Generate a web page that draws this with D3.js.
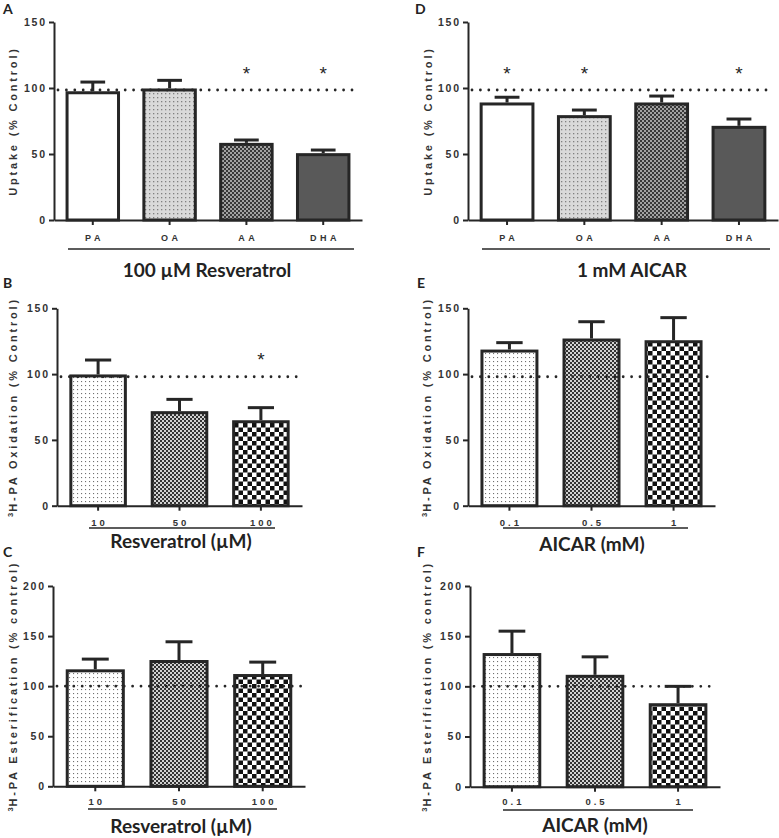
<!DOCTYPE html>
<html><head><meta charset="utf-8">
<script src="https://cdn.jsdelivr.net/npm/d3@7"></script>
<style>body{margin:0;background:#fff}svg{display:block}</style>
</head><body>
<script>
// ---------- data ----------
const uptakeCats = ["PA", "OA", "AA", "DHA"];
const resvUptakeMean = [96.4, 98.5, 57.3, 49.5];
const resvUptakeSem = [8.1, 7.3, 3.3, 3.5];
const resvUptakeSig = [0, 0, 1, 1];
const aicarUptakeMean = [87.9, 78.3, 87.9, 70.2];
const aicarUptakeSem = [5.1, 5.0, 6.0, 6.3];
const aicarUptakeSig = [1, 1, 0, 1];

const resvDoses = ["10", "50", "100"];
const aicarDoses = ["0.1", "0.5", "1"];
const resvOxMean = [98.6, 70.7, 63.8];
const resvOxSem = [12.1, 10.1, 10.7];
const resvOxSig = [0, 0, 1];
const aicarOxMean = [117.5, 125.9, 124.6];
const aicarOxSem = [6.4, 13.9, 18.3];
const aicarOxSig = [0, 0, 0];
const resvEstMean = [115.3, 124.6, 110.6];
const resvEstSem = [11.7, 19.7, 13.4];
const resvEstSig = [0, 0, 0];
const aicarEstMean = [131.7, 110.0, 81.7];
const aicarEstSem = [23.3, 19.4, 18.3];
const aicarEstSig = [0, 0, 0];

const uptakeTicks = [0, 50, 100, 150];
const oxTicks = [0, 50, 100, 150];
const estTicks = [0, 50, 100, 150, 200];
const controlLevels = [98.5, 98.5, 98, 98, 100, 100];
const starLevel = 114;

// ---------- drawing ----------
const W = 779, H = 838;
const svg = d3.select("body").append("svg").attr("width", W).attr("height", H);
const defs = svg.append("defs");
const ink = "#262626";

function pat(id, size, bg, rects) {
  const p = defs.append("pattern").attr("id", id).attr("patternUnits", "userSpaceOnUse")
    .attr("width", size).attr("height", size);
  p.append("rect").attr("width", size).attr("height", size).attr("fill", bg);
  rects.forEach(r => p.append("rect").attr("x", r[0]).attr("y", r[1]).attr("width", r[2]).attr("height", r[3]).attr("fill", r[4]));
}
pat("dotsGray", 4, "#d9d9d9", [[1, 1, 1.3, 1.3, "#808080"]]);
pat("checkDark", 4, "#a2a2a2", [[0, 0, 2, 2, "#383838"], [2, 2, 2, 2, "#383838"]]);
pat("dotsWhite", 4, "#ffffff", [[1, 1, 1.1, 1.1, "#707070"]]);
pat("checkFine", 4, "#d2d2d2", [[0, 0, 2, 2, "#333333"], [2, 2, 2, 2, "#333333"]]);
pat("checkCoarse", 9, "#ffffff", [[0, 0, 4.5, 4.5, "#111111"], [4.5, 4.5, 4.5, 4.5, "#111111"]]);

const uptakeFills = ["#ffffff", "url(#dotsGray)", "url(#checkDark)", "#595959"];
const doseFills = ["url(#dotsWhite)", "url(#checkFine)", "url(#checkCoarse)"];

const panels = [
  {letter: "A", lx: 3, ly: 14, cats: uptakeCats, mean: resvUptakeMean, sem: resvUptakeSem, sig: resvUptakeSig,
   fills: uptakeFills, ticks: uptakeTicks, max: 150, x0: 54, x1: 362, yt: 22, yb: 220,
   ylab: ["", "Uptake (% Control)"], ylx: 16.5, tickY: 241, catSp: 3.5, catFs: 9,
   ul: [68, 354, 249], title: "100 µM Resveratrol", tx: 207, ty: 277},
  {letter: "D", lx: 415, ly: 14, cats: uptakeCats, mean: aicarUptakeMean, sem: aicarUptakeSem, sig: aicarUptakeSig,
   fills: uptakeFills, ticks: uptakeTicks, max: 150, x0: 468, x1: 778, yt: 22, yb: 220,
   ylab: ["", "Uptake (% Control)"], ylx: 431.5, tickY: 241, catSp: 3.5, catFs: 9,
   ul: [482, 770, 249], title: "1 mM AICAR", tx: 632, ty: 277},
  {letter: "B", lx: 3, ly: 288, cats: resvDoses, mean: resvOxMean, sem: resvOxSem, sig: resvOxSig,
   fills: doseFills, ticks: oxTicks, max: 150, x0: 57, x1: 302, yt: 308.3, yb: 505.7,
   ylab: ["3", "H-PA Oxidation (% Control)"], ylx: 17, tickY: 525.5, catSp: 3, catFs: 9.5,
   ul: [89, 275, 528], title: "Resveratrol (µM)", tx: 181, ty: 548},
  {letter: "E", lx: 417, ly: 288, cats: aicarDoses, mean: aicarOxMean, sem: aicarOxSem, sig: aicarOxSig,
   fills: doseFills, ticks: oxTicks, max: 150, x0: 468, x1: 715, yt: 308.3, yb: 505.7,
   ylab: ["3", "H-PA Oxidation (% Control)"], ylx: 431, tickY: 525.5, catSp: 3, catFs: 9.5,
   ul: [503, 688, 528], title: "AICAR (mM)", tx: 592, ty: 551},
  {letter: "C", lx: 3, ly: 557, cats: resvDoses, mean: resvEstMean, sem: resvEstSem, sig: resvEstSig,
   fills: doseFills, ticks: estTicks, max: 200, x0: 53, x1: 305, yt: 586, yb: 786.3,
   ylab: ["3", "H-PA Esterification (% control)"], ylx: 17, tickY: 805, catSp: 3, catFs: 9.5,
   ul: [88, 277, 809], title: "Resveratrol (µM)", tx: 181, ty: 833},
  {letter: "F", lx: 417, ly: 557, cats: aicarDoses, mean: aicarEstMean, sem: aicarEstSem, sig: aicarEstSig,
   fills: doseFills, ticks: estTicks, max: 200, x0: 470, x1: 720, yt: 586, yb: 786.7,
   ylab: ["3", "H-PA Esterification (% control)"], ylx: 431, tickY: 805, catSp: 3, catFs: 9.5,
   ul: [503, 693, 810], title: "AICAR (mM)", tx: 595, ty: 832}
];

const tickFont = "'Liberation Sans', Arial, sans-serif";
const titleFont = "Lato, 'Open Sans', sans-serif";

panels.forEach((p, pi) => {
  const g = svg.append("g");
  const x = d3.scaleBand().domain(p.cats).range([p.x0, p.x1]).paddingInner(0.33).paddingOuter(0.17);
  const y = d3.scaleLinear().domain([0, p.max]).range([p.yb, p.yt]);
  const data = p.cats.map((c, i) => ({c, m: p.mean[i], s: p.sem[i], sig: p.sig[i], f: p.fills[i]}));

  // bars
  g.selectAll("rect.bar").data(data).join("rect").attr("class", "bar")
    .attr("x", d => x(d.c)).attr("width", x.bandwidth())
    .attr("y", d => y(d.m)).attr("height", d => y(0) - y(d.m))
    .attr("fill", d => d.f).attr("stroke", ink).attr("stroke-width", 3);

  // error bars (upper)
  const capW = x.bandwidth() * 0.48;
  g.selectAll("line.err").data(data).join("line").attr("class", "err")
    .attr("x1", d => x(d.c) + x.bandwidth() / 2).attr("x2", d => x(d.c) + x.bandwidth() / 2)
    .attr("y1", d => y(d.m) - 1.5).attr("y2", d => y(d.m + d.s))
    .attr("stroke", ink).attr("stroke-width", 3);
  g.selectAll("line.cap").data(data).join("line").attr("class", "cap")
    .attr("x1", d => x(d.c) + x.bandwidth() / 2 - capW / 2).attr("x2", d => x(d.c) + x.bandwidth() / 2 + capW / 2)
    .attr("y1", d => y(d.m + d.s)).attr("y2", d => y(d.m + d.s))
    .attr("stroke", ink).attr("stroke-width", 3);

  // control dotted line
  g.append("line").attr("x1", p.x0 + 4).attr("x2", p.x1 - 4)
    .attr("y1", y(controlLevels[pi])).attr("y2", y(controlLevels[pi]))
    .attr("stroke", ink).attr("stroke-width", 2.8).attr("stroke-linecap", "round")
    .attr("stroke-dasharray", "0,8.4");

  // stars
  g.selectAll("text.star").data(data.filter(d => d.sig)).join("text").attr("class", "star")
    .attr("x", d => x(d.c) + x.bandwidth() / 2).attr("y", y(starLevel) + 10)
    .attr("text-anchor", "middle").attr("font-family", tickFont).attr("font-size", 19)
    .attr("fill", ink).text("*");

  // y axis
  const ya = g.append("g").attr("transform", `translate(${p.x0},0)`)
    .call(d3.axisLeft(y).tickValues(p.ticks).tickSize(5).tickSizeOuter(0).tickPadding(4));
  ya.select(".domain").attr("stroke", ink).attr("stroke-width", 2);
  ya.selectAll(".tick line").attr("stroke", ink).attr("stroke-width", 2);
  ya.selectAll(".tick text").attr("font-family", tickFont).attr("font-weight", "bold")
    .attr("font-size", 10.5).attr("letter-spacing", 1.8).attr("fill", "#333").attr("dx", 1.8);

  // x axis
  const xa = g.append("g").attr("transform", `translate(0,${p.yb})`)
    .call(d3.axisBottom(x).tickSize(5).tickSizeOuter(0).tickFormat(() => ""));
  xa.select(".domain").attr("stroke", ink).attr("stroke-width", 2);
  xa.selectAll(".tick line").attr("stroke", ink).attr("stroke-width", 2);
  g.selectAll("text.cat").data(data).join("text").attr("class", "cat")
    .attr("x", d => x(d.c) + x.bandwidth() / 2 + p.catSp / 2).attr("y", p.tickY)
    .attr("text-anchor", "middle").attr("font-family", tickFont).attr("font-weight", "bold")
    .attr("font-size", p.catFs).attr("letter-spacing", p.catSp).attr("fill", "#333").text(d => d.c);

  // y label
  const yl = g.append("text")
    .attr("transform", `translate(${p.ylx},${(p.yt + p.yb) / 2}) rotate(-90)`)
    .attr("text-anchor", "middle").attr("font-family", tickFont).attr("font-weight", "bold")
    .attr("font-size", 11).attr("letter-spacing", 2.8).attr("fill", "#333");
  if (p.ylab[0]) {
    yl.append("tspan").attr("font-size", 7.5).attr("dy", -4).attr("letter-spacing", 1).text(p.ylab[0]);
    yl.append("tspan").attr("dy", 4).text(p.ylab[1]);
  } else {
    yl.text(p.ylab[1]);
  }

  // underline + title
  g.append("line").attr("x1", p.ul[0]).attr("x2", p.ul[1]).attr("y1", p.ul[2]).attr("y2", p.ul[2])
    .attr("stroke", ink).attr("stroke-width", 1.5);
  g.append("text").attr("x", p.tx).attr("y", p.ty).attr("text-anchor", "middle")
    .attr("font-family", titleFont).attr("font-weight", "bold").attr("font-size", 19)
    .attr("fill", "#222").text(p.title);

  // panel letter
  svg.append("text").attr("x", p.lx).attr("y", p.ly).attr("font-family", titleFont)
    .attr("font-weight", "bold").attr("font-size", 14).attr("fill", "#222").text(p.letter);
});
</script>
</body></html>
